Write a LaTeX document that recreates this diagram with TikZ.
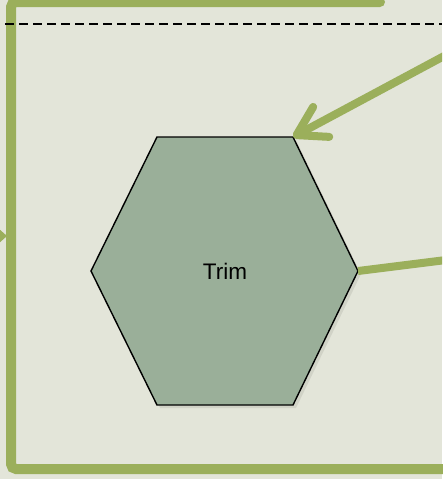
\documentclass[tikz,border=0pt]{standalone}
\usepackage{fontspec}
\setmainfont{Liberation Sans}
\usetikzlibrary{arrows.meta}
\definecolor{bgc}{HTML}{E3E5D9}
\definecolor{grn}{HTML}{9BAF5B}
\definecolor{hexfill}{HTML}{9AAF99}
\tikzset{
  frameline/.style={draw=grn, line width=10pt, line cap=round, rounded corners=5pt},
  connline/.style={draw=grn, line width=8pt, line cap=round},
  arrowline/.style={connline, -{Straight Barb[length=28pt,width=34pt,round]}},
  hexshape/.style={draw=black, line width=1.4pt, fill=hexfill, line join=miter},
  dashline/.style={draw=black, line width=1.3pt, dash pattern=on 9pt off 5pt},
  lbl/.style={font=\fontsize{22.5}{26}\selectfont, text=black}
}
\begin{document}
\begin{tikzpicture}[x=1pt,y=-1pt]
\useasboundingbox (0,0) rectangle (442,479);
\fill[bgc] (0,0) rectangle (442,479);
% frame
\draw[frameline] (380,2) -- (11,2) -- (11,469) -- (460,469);
\clip (0,0) rectangle (442,479);
\fill[grn] (-2,228) -- (7,236) -- (-2,244) -- cycle;
% dashed line
\coordinate (dl) at (5,24);
\coordinate (dr) at (442,24);
\draw[dashline] (dl) -- (dr);
% hexagon
\coordinate (hTL) at (157,137);
\coordinate (hTR) at (293,137);
\coordinate (hR) at (358,271);
\coordinate (hBR) at (293,405);
\coordinate (hBL) at (157,405);
\coordinate (hL) at (91,271);
\fill[black, opacity=0.08] ([shift={(3,3)}]hTL) -- ([shift={(3,3)}]hTR) -- ([shift={(3,3)}]hR) -- ([shift={(3,3)}]hBR) -- ([shift={(3,3)}]hBL) -- ([shift={(3,3)}]hL) -- cycle;
\draw[hexshape] (hTL) -- (hTR) -- (hR) -- (hBR) -- (hBL) -- (hL) -- cycle;
\node[lbl] (trim) at (225,271) {Trim};
% connectors
\coordinate (ain) at (446,55);
\coordinate (rout) at (446,260);
\draw[arrowline] (ain) -- (hTR);
\draw[connline, line cap=butt] (hR) -- (rout);
\end{tikzpicture}
\end{document}
